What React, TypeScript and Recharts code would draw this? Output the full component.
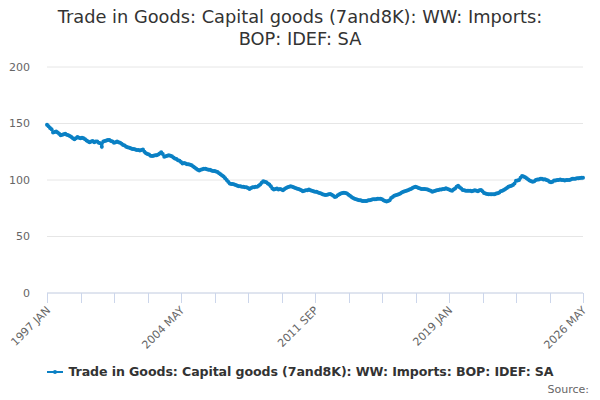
import React from "react";
import { LineChart, Line, XAxis, YAxis, CartesianGrid } from "recharts";

const MONTHS = ["JAN", "FEB", "MAR", "APR", "MAY", "JUN", "JUL", "AUG", "SEP", "OCT", "NOV", "DEC"];
const START_YEAR = 1997;

const values: number[] = [
  // 1997
  149, 147.5, 146, 145, 142, 142.5, 143, 142, 141, 139.5, 140, 140.5,
  // 1998
  141, 140, 139.5, 139, 138, 137, 136, 137, 138, 137.5, 137, 137.5,
  // 1999
  137, 136, 135, 134, 133.3, 134, 134.5, 133.5, 134, 134, 133, 132.5,
  // 2000
  129.5, 134, 134.5, 135, 135.5, 135.4, 134.5, 134, 133, 133.3, 134, 133.3,
  // 2001
  133, 132, 131, 130.5, 129.5, 129, 128.5, 128, 127.5, 127.4, 127, 126.5,
  // 2002
  126.5, 126, 126.5, 127, 125, 123.6, 123, 122.5, 121.5, 121.2, 121.5, 122,
  // 2003
  122, 122.5, 123.5, 124.5, 123, 120.6, 121, 121.5, 122, 121.5, 121, 120,
  // 2004
  119, 118.5, 117.5, 117, 116, 114.5, 115, 114.5, 114, 114, 113.5, 113,
  // 2005
  112, 111, 110, 109, 108.5, 109, 109.5, 110, 110, 109.5, 109, 109,
  // 2006
  108.5, 108, 108, 107.5, 107, 106, 105, 104, 103, 101.5, 100, 98.5,
  // 2007
  97, 96.5, 96.5, 96, 95.5, 95, 94.5, 94.5, 94, 94, 93.5, 93.5,
  // 2008
  93, 92, 93, 93.5, 93.5, 94, 94, 95, 96, 97.5, 99, 98.5,
  // 2009
  98, 97, 96, 94.5, 92.5, 91.5, 92, 92.5, 91.5, 92, 91.5, 91,
  // 2010
  92, 93, 93.5, 94, 94.5, 94, 93.5, 93, 92.5, 92, 91.5, 91,
  // 2011
  90, 90.5, 91, 91, 91.5, 91, 90.5, 90, 89.5, 89.5, 89, 88.5,
  // 2012
  88, 87.5, 87, 86.7, 87, 87.5, 87.6, 87, 86, 85, 85.5, 86.5,
  // 2013
  87.5, 88, 88.5, 88.8, 88.5, 88, 87, 86, 85, 84, 83.5, 83,
  // 2014
  82.5, 82, 82, 81.5, 81.5, 81.5, 81.5, 82, 82, 82.5, 83, 83,
  // 2015
  83, 83.5, 83.5, 83.5, 83, 82, 81.5, 81, 81.5, 82, 84, 85,
  // 2016
  86, 86.5, 87, 87.5, 88, 89, 89.7, 90, 90.5, 91, 91.5, 92,
  // 2017
  93, 93.5, 94, 93.5, 93, 92.5, 92, 92, 92, 91.8, 91.5, 91,
  // 2018
  90.5, 89.7, 90, 90.5, 91, 91.2, 91.5, 91.5, 92, 92, 92.6, 92,
  // 2019
  91.5, 91, 90.5, 91.5, 92.5, 94, 95, 93.5, 92.5, 91.2, 91, 90.5,
  // 2020
  90.5, 90.5, 90.5, 90, 90.5, 91, 90.5, 90, 91, 91.2, 90, 88.5,
  // 2021
  88, 87.6, 87.5, 87.5, 87.3, 87.3, 87.5, 88, 88.2, 89, 90, 90.5,
  // 2022
  91.2, 92, 93, 94, 94.5, 95, 95.6, 97, 99.4, 99.5, 100, 102,
  // 2023
  103.5, 103, 102.5, 101.5, 100.5, 99.5, 99, 98.5, 99, 100, 100.5, 100.5,
  // 2024
  101, 101, 100.5, 100.6, 100, 99.5, 98.5, 98, 98.5, 99.5, 99.5, 100,
  // 2025
  100, 100.5, 100, 100, 99.5, 100, 100, 100, 100.5, 101, 101, 101,
  // 2026
  101.5, 101.5, 101.8, 102, 102,
];

const labels: string[] = values.map(
  (_, i) => `${START_YEAR + Math.floor(i / 12)} ${MONTHS[i % 12]}`
);

const tickLabels = ["1997 JAN", "2004 MAY", "2011 SEP", "2019 JAN", "2026 MAY"];
const yTicks = [0, 50, 100, 150, 200];
const TICK_STEP = 22;

const data = values.map((v, i) => ({ label: labels[i], value: v }));
const xTicks = labels.filter((_, i) => i % TICK_STEP === 0);

const COLOR = "#0a80c4";
const FONT = "'DejaVu Sans', sans-serif";
const SERIES_NAME = "Trade in Goods: Capital goods (7and8K): WW: Imports: BOP: IDEF: SA";

const XTick = (props: any) => {
  const { x, y, payload } = props;
  const text = tickLabels.includes(payload.value) ? payload.value : "";
  const lx = Math.round(x) + 0.5;
  return (
    <g>
      <line x1={lx} y1={y - 12} x2={lx} y2={y - 2} stroke="#ccd6eb" strokeWidth={1} />
      {text ? (
        <text
          x={x + 4}
          y={y + 6}
          transform={`rotate(-45, ${x + 4}, ${y + 6})`}
          textAnchor="end"
          fill="#666666"
          fontSize={11}
          fontFamily={FONT}
        >
          {text}
        </text>
      ) : null}
    </g>
  );
};

export default function App() {
  return (
    <div style={{ position: "relative", width: 600, height: 400, background: "#fff", fontFamily: FONT }}>
      <style>{`body{margin:0}`}</style>
      <div
        style={{
          position: "absolute",
          top: 6,
          left: 0,
          width: 600,
          textAlign: "center",
          fontSize: 17.8,
          lineHeight: "22px",
          color: "#333333",
        }}
      >
        Trade in Goods: Capital goods (7and8K): WW: Imports:
        <br />
        BOP: IDEF: SA
      </div>
      <LineChart
        width={600}
        height={400}
        data={data}
        margin={{ top: 67, right: 17, bottom: 47, left: 0 }}
      >
        <CartesianGrid horizontal vertical={false} stroke="#e6e6e6" />
        <XAxis
          dataKey="label"
          ticks={xTicks}
          interval={0}
          height={60}
          tick={<XTick />}
          tickSize={10}
          tickLine={false}
          axisLine={{ stroke: "#ccd6eb" }}
        />
        <YAxis
          domain={[0, 200]}
          ticks={yTicks}
          width={47}
          axisLine={false}
          tickLine={false}
          tickSize={6}
          tickMargin={11}
          tick={{ fill: "#666666", fontSize: 11, fontFamily: FONT }}
        />
        <Line
          type="linear"
          dataKey="value"
          stroke={COLOR}
          strokeWidth={2}
          dot={{ r: 2, fill: COLOR, stroke: "none" }}
          activeDot={false}
          isAnimationActive={false}
        />
      </LineChart>
      <div
        style={{
          position: "absolute",
          top: 364,
          left: 0,
          width: 600,
          display: "flex",
          justifyContent: "center",
          alignItems: "center",
        }}
      >
        <svg width={16} height={12} style={{ marginRight: 6 }}>
          <line x1={0} y1={6} x2={16} y2={6} stroke={COLOR} strokeWidth={2} />
          <circle cx={8} cy={6} r={2} fill={COLOR} />
        </svg>
        <span style={{ fontSize: 12.6, letterSpacing: "-0.1px", fontWeight: "bold", color: "#333333" }}>
          {SERIES_NAME}
        </span>
      </div>
      <div
        style={{
          position: "absolute",
          top: 383,
          right: 11,
          fontSize: 11,
          color: "#666666",
        }}
      >
        Source:
      </div>
    </div>
  );
}
